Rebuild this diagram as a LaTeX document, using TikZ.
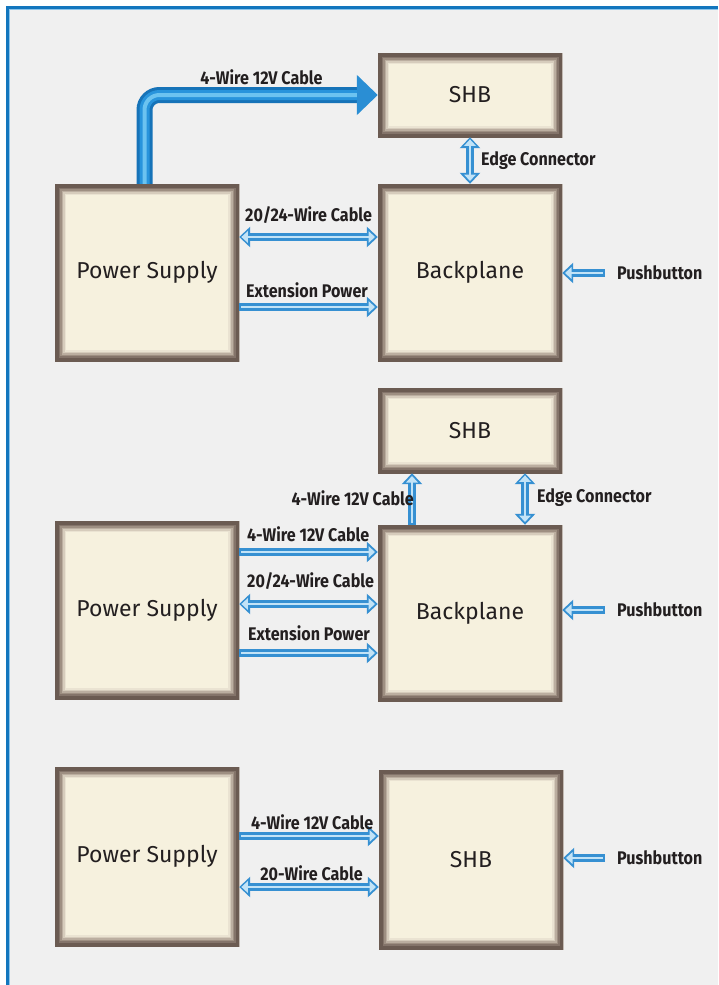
\documentclass[tikz,border=0pt]{standalone}
\usepackage{fontspec}
\setmainfont{Fira Sans}
\newfontfamily\lblfont[FakeStretch=0.88]{Fira Sans}
\usetikzlibrary{arrows.meta,calc}
\definecolor{bg}{HTML}{F0F0F0}
\definecolor{frameblue}{HTML}{1276BE}
\definecolor{framelight}{HTML}{8CC4EA}
\definecolor{boxfill}{HTML}{F6F1DE}
\definecolor{bevA}{HTML}{EAE3D2}
\definecolor{bevB}{HTML}{D6CCBC}
\definecolor{bevC}{HTML}{BBAEA0}
\definecolor{bevD}{HTML}{9E8F82}
\definecolor{bevE}{HTML}{84746A}
\definecolor{bevF}{HTML}{6B5B52}
\definecolor{txt}{HTML}{231F20}
\definecolor{ablue}{HTML}{3690D2}
\definecolor{alight}{HTML}{C2E3F7}
\definecolor{tubeA}{HTML}{1673B8}
\definecolor{tubeB}{HTML}{2894DC}
\definecolor{tubeC}{HTML}{6CC3F0}
\definecolor{tipc}{HTML}{2A8ED4}
\tikzset{
  box/.style={rectangle, inner sep=0pt, fill=boxfill, text=txt,
    font=\fontsize{23}{26}\selectfont,
    path picture={
      \foreach \w/\c in {22/bevA,19/bevB,16/bevC,13/bevD,10/bevE,7/bevF}{
        \draw[line width=\w pt,\c] (path picture bounding box.south west) rectangle (path picture bounding box.north east);}
    }},
  lbl/.style={text=txt, inner sep=0pt, font=\lblfont\bfseries\fontsize{18.3}{20}\selectfont},
  hout/.style={line width=7.5pt, draw=ablue, >={Triangle[length=11pt,width=20pt]}},
  hin/.style={line width=2.8pt, draw=alight, >={Triangle[length=6.5pt,width=11.5pt]}, shorten >=2.8pt, shorten <=2.2pt},
}
\newcommand\harrowS[2]{\draw[hout,->] #1 -- #2; \draw[hin,->] #1 -- #2;}
\newcommand\harrowD[2]{\draw[hout,<->] #1 -- #2; \draw[hin,<->] #1 -- #2;}
\begin{document}
\begin{tikzpicture}[x=1pt,y=-1pt]
\useasboundingbox (0,0) rectangle (718,985);
\fill[white] (0,0) rectangle (718,985);
\fill[bg] (7.5,7.5) rectangle (718,985);
\draw[line width=1pt, framelight] (9.5,985) -- (9.5,9.5) -- (718,9.5);
\draw[line width=3pt, frameblue] (7.5,985) -- (7.5,7.5) -- (718,7.5);

% ---------- top section ----------
\node[box, minimum width=184pt, minimum height=84pt] (shb1) at (470,95) {SHB};
\node[box, minimum width=184pt, minimum height=177pt] (ps1) at (147,272.5) {Power Supply};
\node[box, minimum width=184pt, minimum height=177pt] (bp1) at (470,272.5) {Backplane};

\coordinate (tx) at (144.5,0);
\draw[line width=16pt, tubeA, rounded corners=15pt, -{Triangle[length=21pt,width=39pt,color=tipc]}] (ps1.north -| tx) |- (shb1.west);
\draw[line width=10pt, tubeB, rounded corners=15pt, shorten >=21pt] (ps1.north -| tx) |- (shb1.west);
\draw[line width=4pt, tubeC, rounded corners=15pt, shorten >=21pt] (ps1.north -| tx) |- (shb1.west);
\node[lbl] (l1) at (261.5,77) {4-Wire 12V Cable};

\harrowD{(shb1.south)}{(bp1.north)}
\node[lbl, anchor=west] (l2) at (481,161) {Edge Connector};

\coordinate (a1) at (0,237);
\coordinate (a2) at (0,307);
\harrowD{(ps1.east |- a1)}{(bp1.west |- a1)}
\node[lbl, anchor=west] (l3) at (245,215) {20/24-Wire Cable};
\harrowS{(ps1.east |- a2)}{(bp1.west |- a2)}
\node[lbl, anchor=west] (l4) at (246,290) {Extension Power};

\coordinate (pb1) at (605,273);
\harrowS{(pb1)}{(bp1.east |- pb1)}
\node[lbl, anchor=west] (l5) at (617,273) {Pushbutton};

% ---------- middle section ----------
\node[box, minimum width=184pt, minimum height=85pt] (shb2) at (470,430.5) {SHB};
\node[box, minimum width=184pt, minimum height=178pt] (ps2) at (147,610) {Power Supply};
\node[box, minimum width=184pt, minimum height=176pt] (bp2) at (470,613) {Backplane};

\coordinate (ux) at (412,0);
\coordinate (ex) at (525,0);
\harrowS{(bp2.north -| ux)}{(shb2.south -| ux)}
\harrowD{(shb2.south -| ex)}{(bp2.north -| ex)}
\node[lbl, anchor=east] (l6) at (414,498) {4-Wire 12V Cable};
\node[lbl, anchor=west] (l7) at (537,498) {Edge Connector};

\coordinate (b1) at (0,552);
\coordinate (b2) at (0,604);
\coordinate (b3) at (0,653);
\harrowS{(ps2.east |- b1)}{(bp2.west |- b1)}
\harrowD{(ps2.east |- b2)}{(bp2.west |- b2)}
\harrowS{(ps2.east |- b3)}{(bp2.west |- b3)}
\node[lbl, anchor=west] (l8) at (247,534) {4-Wire 12V Cable};
\node[lbl, anchor=west] (l9) at (247,581) {20/24-Wire Cable};
\node[lbl, anchor=west] (l10) at (248,633) {Extension Power};

\coordinate (pb2) at (605,610);
\harrowS{(pb2)}{(bp2.east |- pb2)}
\node[lbl, anchor=west] (l11) at (617,610) {Pushbutton};

% ---------- bottom section ----------
\node[box, minimum width=184pt, minimum height=179pt] (ps3) at (147,856.5) {Power Supply};
\node[box, minimum width=184pt, minimum height=179pt] (shb3) at (471,859.5) {SHB};

\coordinate (c1) at (0,836);
\coordinate (c2) at (0,887);
\harrowS{(ps3.east |- c1)}{(shb3.west |- c1)}
\harrowD{(ps3.east |- c2)}{(shb3.west |- c2)}
\node[lbl, anchor=west] (l12) at (251,822) {4-Wire 12V Cable};
\node[lbl] (l13) at (311.5,873) {20-Wire Cable};

\coordinate (pb3) at (605,858);
\harrowS{(pb3)}{(shb3.east |- pb3)}
\node[lbl, anchor=west] (l14) at (617,858) {Pushbutton};
\end{tikzpicture}
\end{document}
